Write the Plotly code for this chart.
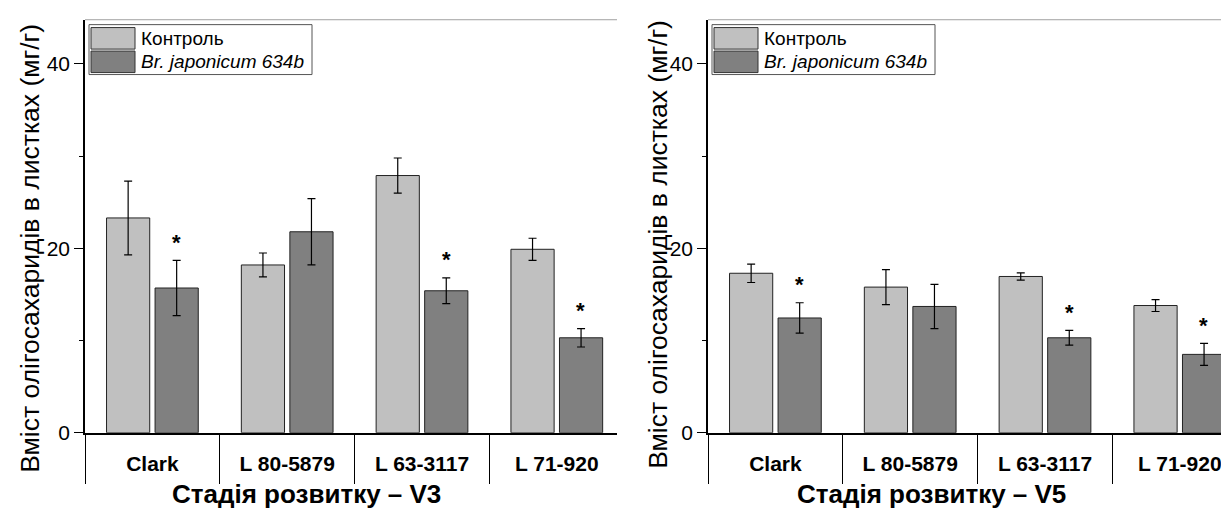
import plotly.graph_objects as go

# ---------------- data ----------------
categories = ["Clark", "L 80-5879", "L 63-3117", "L 71-920"]
series_names = ["Контроль", "<i>Br. japonicum 634b</i>"]

v3_control = [23.3, 18.2, 27.9, 19.9]
v3_control_err = [4.0, 1.3, 1.9, 1.2]
v3_br = [15.7, 21.8, 15.4, 10.3]
v3_br_err = [3.0, 3.6, 1.4, 1.0]
v3_signif = [True, False, True, True]

v5_control = [17.3, 15.8, 16.95, 13.8]
v5_control_err = [1.0, 1.9, 0.4, 0.65]
v5_br = [12.45, 13.7, 10.3, 8.5]
v5_br_err = [1.65, 2.4, 0.8, 1.2]
v5_signif = [True, False, True, True]

panel_titles = ["Стадія розвитку – V3", "Стадія розвитку – V5"]
y_title = "Вміст олігосахаридів в листках (мг/г)"

# ---------------- style ----------------
W, H = 1229, 516
FONT = "Arial, Liberation Sans, sans-serif"
C_LIGHT = "#C0C0C0"
C_DARK = "#808080"
CAT_PX = 134.8


def fx(px):
    return px / W


def fy(py):
    return 1 - py / H


fig = go.Figure()

panels = [
    dict(xa="x", ya="y", ctrl=v3_control, ctrl_e=v3_control_err, br=v3_br, br_e=v3_br_err,
         sig=v3_signif, x0=77, x1=609),
    dict(xa="x2", ya="y2", ctrl=v5_control, ctrl_e=v5_control_err, br=v5_br, br_e=v5_br_err,
         sig=v5_signif, x0=700, x1=1229),
]

for p in panels:
    for vals, errs, col, name in [(p["ctrl"], p["ctrl_e"], C_LIGHT, series_names[0]),
                                  (p["br"], p["br_e"], C_DARK, series_names[1])]:
        fig.add_trace(go.Bar(
            x=categories, y=vals, name=name, xaxis=p["xa"], yaxis=p["ya"],
            marker=dict(color=col, line=dict(color="#222222", width=1)),
            error_y=dict(type="data", array=errs, visible=True, color="black",
                         thickness=1.2, width=4),
            showlegend=False,
        ))

Y0_PX, YTOP_PX = 434, 12
YMAX = 44.8

axis_common_y = dict(
    range=[0, YMAX], dtick=20, ticks="outside", ticklen=9, tickwidth=1.2, tickcolor="black",
    showline=True, linecolor="black", linewidth=1.5, showgrid=False, zeroline=False,
    tickfont=dict(family=FONT, size=21, color="black"),
    minor=dict(dtick=10, ticks="outside", ticklen=4, tickcolor="black", tickwidth=1.2),
    domain=[fy(Y0_PX), fy(YTOP_PX)], fixedrange=True,
)

layout = dict(
    width=W, height=H, autosize=False,
    margin=dict(l=0, r=0, t=0, b=0),
    paper_bgcolor="white", plot_bgcolor="white",
    barmode="group", bargap=0.28, bargroupgap=0.11,
    font=dict(family=FONT, color="black"),
    showlegend=False,
)

for i, p in enumerate(panels):
    xkey = "xaxis" if i == 0 else "xaxis2"
    ykey = "yaxis" if i == 0 else "yaxis2"
    xr_end = -0.5 + (p["x1"] - p["x0"]) / CAT_PX
    layout[xkey] = dict(
        type="category", range=[-0.5, xr_end], domain=[fx(p["x0"]), fx(p["x1"])],
        showline=True, linecolor="black", linewidth=2.2, showgrid=False, zeroline=False,
        ticks="outside", tickson="boundaries", ticklen=49, tickcolor="black", tickwidth=1.2,
        ticklabelstandoff=11,
        tickfont=dict(family=FONT, size=21, color="black", weight="bold"),
        anchor="y" if i == 0 else "y2", fixedrange=True,
    )
    ydict = dict(axis_common_y)
    ydict["anchor"] = "x" if i == 0 else "x2"
    layout[ykey] = ydict

fig.update_layout(**layout)

# top border lines (thin gray)
for p in panels:
    fig.add_shape(type="line", xref="paper", yref="paper",
                  x0=fx(p["x0"]), x1=fx(p["x1"]), y0=fy(YTOP_PX), y1=fy(YTOP_PX),
                  line=dict(color="#A0A0A0", width=1))

# significance stars
for p in panels:
    for j, cat in enumerate(categories):
        if p["sig"][j]:
            fig.add_annotation(
                x=cat, y=p["br"][j] + p["br_e"][j], xref=p["xa"], yref=p["ya"],
                text="*", showarrow=False, xshift=24, yshift=18,
                yanchor="middle", font=dict(family=FONT, size=22, color="black", weight="bold"),
            )

# custom legends
for p in panels:
    bx0 = p["x0"] + 4
    fig.add_shape(type="rect", xref="paper", yref="paper",
                  x0=fx(bx0), x1=fx(bx0 + 223), y0=fy(17), y1=fy(68),
                  line=dict(color="#555555", width=1), fillcolor="white", layer="above")
    for k, (col, name) in enumerate([(C_LIGHT, series_names[0]), (C_DARK, series_names[1])]):
        top = 20 + k * 24
        fig.add_shape(type="rect", xref="paper", yref="paper",
                      x0=fx(bx0 + 2), x1=fx(bx0 + 46), y0=fy(top), y1=fy(top + 22),
                      line=dict(color="#333333", width=1), fillcolor=col, layer="above")
        fig.add_annotation(x=fx(bx0 + 50), y=fy(top + 11), xref="paper", yref="paper",
                           text=name, showarrow=False, xanchor="left", yanchor="middle",
                           font=dict(family=FONT, size=19, color="black"))

# axis titles
for p, t, cx in zip(panels, panel_titles, [298, 923]):
    fig.add_annotation(x=fx(cx), y=fy(497), xref="paper", yref="paper", text=t,
                       showarrow=False, xanchor="center", yanchor="middle",
                       font=dict(family=FONT, size=26, color="black", weight="bold"))

for cx, cy in [(22, 246), (650, 242)]:
    fig.add_annotation(x=fx(cx), y=fy(cy), xref="paper", yref="paper", text=y_title,
                       showarrow=False, textangle=-90, xanchor="center", yanchor="middle",
                       font=dict(family=FONT, size=26.5, color="black"))

fig.write_html("out.html")
